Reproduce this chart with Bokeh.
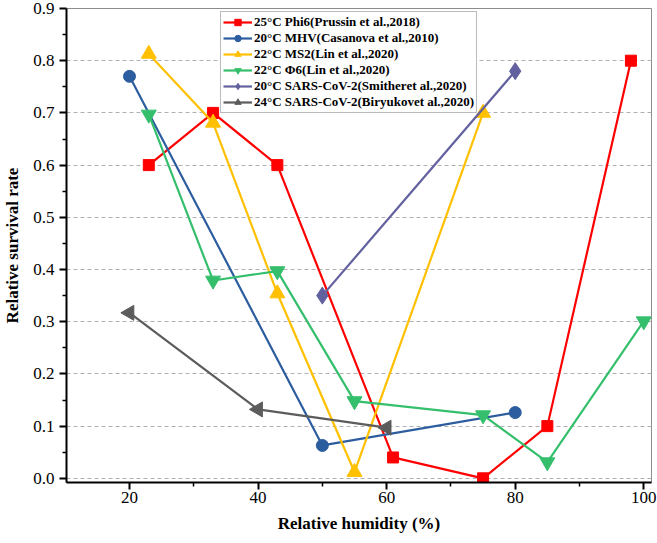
import numpy as np
from bokeh.plotting import figure
from bokeh.models import Range1d, FixedTicker, Legend, LegendItem, NumeralTickFormatter
from bokeh.embed import file_html
from bokeh.resources import INLINE

# ---- data ----
phi6_prussin_x = [23, 33, 43, 61, 75, 85, 98]
phi6_prussin_y = [0.60, 0.70, 0.60, 0.04, 0.00, 0.10, 0.80]

mhv_x = [20, 50, 80]
mhv_y = [0.77, 0.063, 0.126]

ms2_x = [23, 33, 43, 55, 75]
ms2_y = [0.813, 0.681, 0.354, 0.012, 0.70]

phi6_lin_x = [23, 33, 43, 55, 75, 85, 100]
phi6_lin_y = [0.697, 0.379, 0.397, 0.148, 0.121, 0.031, 0.301]

sars_smither_x = [50, 80]
sars_smither_y = [0.35, 0.78]

sars_biryukov_x = [20, 40, 60]
sars_biryukov_y = [0.317, 0.132, 0.097]

labels = [
    "25°C Phi6(Prussin et al.,2018)",
    "20°C MHV(Casanova et al.,2010)",
    "22°C MS2(Lin et al.,2020)",
    "22°C Φ6(Lin et al.,2020)",
    "20°C SARS-CoV-2(Smitheret al.,2020)",
    "24°C SARS-CoV-2(Biryukovet al.,2020)",
]

x_major = [20, 40, 60, 80, 100]
x_minor = [10, 30, 50, 70, 90]
y_major = [0.0, 0.1, 0.2, 0.3, 0.4, 0.5, 0.6, 0.7, 0.8, 0.9]
y_minor = [0.05, 0.15, 0.25, 0.35, 0.45, 0.55, 0.65, 0.75, 0.85]

SERIF = "Liberation Serif"

p = figure(width=657, height=543, output_backend="svg", toolbar_location=None,
           x_range=Range1d(10.2, 101.2), y_range=Range1d(-0.008, 0.9),
           min_border_left=56, min_border_right=6, min_border_top=8, min_border_bottom=61)

p.outline_line_color = "#8c8c8c"
p.outline_line_width = 1
p.background_fill_color = "white"
p.border_fill_color = "white"

p.xgrid.visible = False
p.ygrid.grid_line_color = "#b0b0b0"
p.ygrid.grid_line_dash = "4 3"
p.ygrid.grid_line_width = 1

for ax in (p.xaxis[0], p.yaxis[0]):
    ax.axis_line_color = "black"
    ax.axis_line_width = 2
    ax.major_tick_line_color = "black"
    ax.major_tick_line_width = 2
    ax.minor_tick_line_color = "black"
    ax.minor_tick_line_width = 1.5
    ax.major_tick_out = 7
    ax.major_tick_in = 0
    ax.minor_tick_out = 4
    ax.minor_tick_in = 0
    ax.major_label_text_font = SERIF
    ax.major_label_text_font_size = "17px"
    ax.major_label_text_color = "black"
    ax.axis_label_text_font = SERIF
    ax.axis_label_text_font_size = "17px"
    ax.axis_label_text_font_style = "bold"
    ax.axis_label_text_color = "black"

p.xaxis[0].ticker = FixedTicker(ticks=x_major, minor_ticks=x_minor)
p.yaxis[0].ticker = FixedTicker(ticks=y_major, minor_ticks=y_minor)
p.yaxis[0].formatter = NumeralTickFormatter(format="0.0")
p.xaxis[0].axis_label = "Relative humidity (%)"
p.yaxis[0].axis_label = "Relative survival rate"
p.xaxis[0].major_label_standoff = 2
p.yaxis[0].major_label_standoff = 5
p.xaxis[0].axis_label_standoff = 8
p.yaxis[0].axis_label_standoff = 8

series = [
    (phi6_prussin_x, phi6_prussin_y, "#ff0000", "square", 11, 0),
    (mhv_x, mhv_y, "#2c5d9e", "circle", 12, 0),
    (ms2_x, ms2_y, "#ffc000", "triangle", 15, 0),
    (phi6_lin_x, phi6_lin_y, "#35bf6c", "inverted_triangle", 15, 0),
    (sars_smither_x, sars_smither_y, "#62609e", "diamond", 17, 0),
    (sars_biryukov_x, sars_biryukov_y, "#5c5c5c", "triangle", 15, np.pi / 2),
]

items = []
for (xs, ys, col, mk, sz, ang), lab in zip(series, labels):
    r1 = p.line(xs, ys, line_color=col, line_width=2.2)
    r2 = p.scatter(xs, ys, marker=mk, size=sz, angle=ang,
                   fill_color=col, line_color=col)
    items.append(LegendItem(label=lab, renderers=[r1, r2]))

legend = Legend(items=items, location=(154, 369))
legend.label_text_font = SERIF
legend.label_text_font_size = "13px"
legend.label_text_font_style = "bold"
legend.label_text_color = "black"
legend.glyph_width = 29
legend.glyph_height = 16
legend.label_height = 16
legend.label_standoff = 2
legend.spacing = 0
legend.padding = 2
legend.margin = 0
legend.border_line_color = "#777777"
legend.border_line_width = 1.5
legend.background_fill_color = "white"
legend.background_fill_alpha = 1
p.add_layout(legend)

open("out.html", "w").write(file_html(p, INLINE))
